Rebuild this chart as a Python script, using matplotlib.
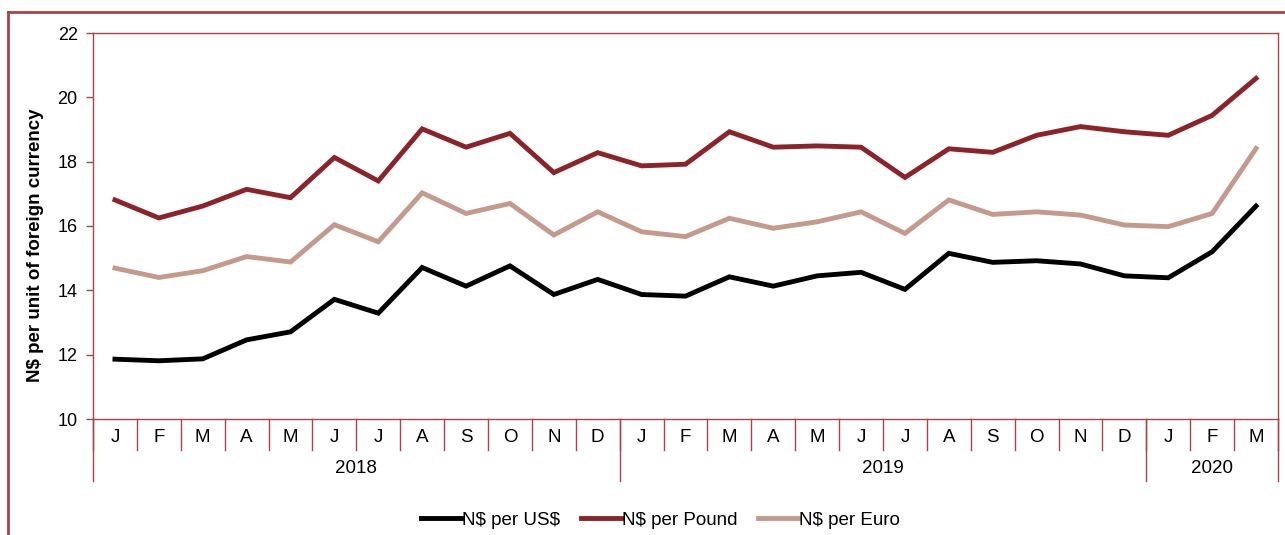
import matplotlib.pyplot as plt
from matplotlib.lines import Line2D

plt.rcParams['font.family'] = ['Liberation Sans', 'DejaVu Sans']

# monthly data, Jan 2018 - Mar 2020
months = ['J', 'F', 'M', 'A', 'M', 'J', 'J', 'A', 'S', 'O', 'N', 'D',
          'J', 'F', 'M', 'A', 'M', 'J', 'J', 'A', 'S', 'O', 'N', 'D',
          'J', 'F', 'M']
years = ['2018', '2019', '2020']
year_counts = [12, 12, 3]

usd = [11.86, 11.81, 11.87, 12.46, 12.71, 13.72, 13.29, 14.71, 14.13, 14.76, 13.87, 14.34,
       13.87, 13.82, 14.42, 14.13, 14.45, 14.56, 14.03, 15.15, 14.87, 14.92, 14.82, 14.45,
       14.39, 15.20, 16.62]
pound = [16.81, 16.25, 16.62, 17.14, 16.88, 18.13, 17.40, 19.02, 18.45, 18.88, 17.66, 18.28,
         17.87, 17.92, 18.93, 18.45, 18.49, 18.45, 17.51, 18.40, 18.29, 18.82, 19.09, 18.93,
         18.82, 19.44, 20.59]
euro = [14.69, 14.40, 14.61, 15.05, 14.88, 16.04, 15.51, 17.03, 16.39, 16.70, 15.72, 16.44,
        15.82, 15.67, 16.24, 15.93, 16.13, 16.44, 15.77, 16.81, 16.36, 16.44, 16.34, 16.03,
        15.98, 16.39, 18.41]

red = '#8B2329'
frame = '#A8434A'

fig = plt.figure(figsize=(12.85, 5.35), dpi=100)
ax = fig.add_axes([93 / 1285, 1 - 419 / 535, (1278 - 93) / 1285, (419 - 33) / 535])

x = list(range(len(months)))
ax.plot(x, usd, color='black', lw=3.5, label=r'N\$ per US\$', solid_joinstyle='miter')
ax.plot(x, pound, color=red, lw=3.5, label=r'N\$ per Pound', solid_joinstyle='miter')
ax.plot(x, euro, color='#C49A8C', lw=3.5, label=r'N\$ per Euro', solid_joinstyle='miter')

ax.set_xlim(-0.5, len(months) - 0.5)
ax.set_ylim(10, 22)
ax.set_yticks(range(10, 23, 2))
ax.tick_params(axis='y', colors=frame, length=5, width=1, labelsize=13, labelcolor='black', pad=6)
ax.set_xticks([])
for s in ax.spines.values():
    s.set_color(frame)
    s.set_linewidth(1)

ax.set_ylabel(r'N\$ per unit of foreign currency', fontsize=13.5, fontweight='bold')
ax.yaxis.set_label_coords(-0.041, 0.45)

# category axis: month separators, month labels, year groups
tr = ax.get_xaxis_transform()
for k in range(len(months) + 1):
    ax.plot([k - 0.5, k - 0.5], [0, -0.08], color=frame, lw=1, transform=tr, clip_on=False)
for i, m in enumerate(months):
    ax.text(i, -0.047, m, transform=tr, ha='center', va='center', fontsize=13.5)
start = 0
for yr, n in zip(years, year_counts):
    ax.plot([start - 0.5, start - 0.5], [0, -0.16], color=frame, lw=1, transform=tr, clip_on=False)
    ax.text(start + (n - 1) / 2, -0.127, yr, transform=tr, ha='center', va='center', fontsize=13.5)
    start += n
ax.plot([start - 0.5, start - 0.5], [0, -0.16], color=frame, lw=1, transform=tr, clip_on=False)

fig.legend(loc='center', bbox_to_anchor=(0.514, 1 - 520 / 535), ncol=3, frameon=False,
           fontsize=13.5, handlelength=2.2, handletextpad=0.0, columnspacing=1.1)

# outer frame of the figure box
fig.add_artist(Line2D([8 / 1285, 1], [1 - 12 / 535, 1 - 12 / 535], color=frame, lw=2,
                      transform=fig.transFigure))
fig.add_artist(Line2D([8 / 1285, 8 / 1285], [0, 1 - 12 / 535], color=frame, lw=2,
                      transform=fig.transFigure))

fig.savefig('out.png', dpi=100)
